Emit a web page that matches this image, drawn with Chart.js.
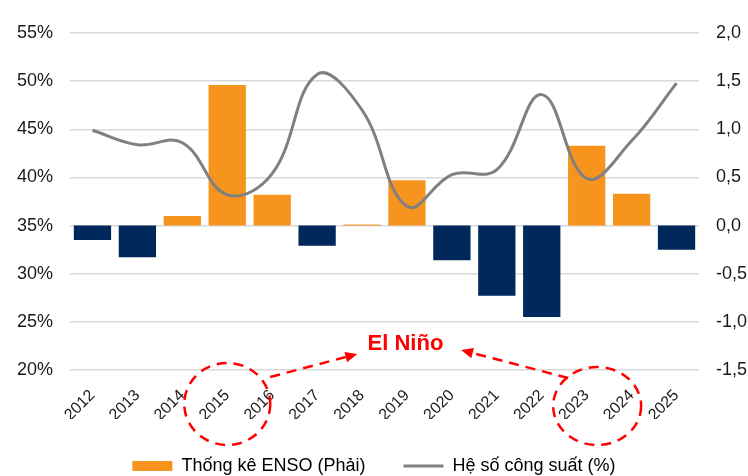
<!DOCTYPE html>
<html>
<head>
<meta charset="utf-8">
<script src="https://cdn.jsdelivr.net/npm/chart.js@4.4.1/dist/chart.umd.min.js"></script>
<style>
  html, body { margin: 0; padding: 0; background: #fff; }
  #wrap { width: 748px; height: 476px; }
</style>
</head>
<body>
<div id="wrap"><canvas id="chart" width="748" height="476"></canvas></div>
<script>
// Years on the x axis
const years = ['2012', '2013', '2014', '2015', '2016', '2017', '2018', '2019',
               '2020', '2021', '2022', '2023', '2024', '2025'];

// ENSO index (right axis)
const enso = [-0.15, -0.33, 0.10, 1.46, 0.32, -0.21, 0.01, 0.47,
              -0.36, -0.73, -0.95, 0.83, 0.33, -0.25];

// Capacity factor in % (left axis)
const capacity = [44.9, 43.4, 43.6, 38.2, 40.4, 50.7, 47.0, 37.0,
                  40.3, 40.8, 48.6, 39.9, 43.8, 49.8];

// Tick ranges
const leftTicks = { min: 20, max: 55, step: 5 };
const rightTicks = { min: -1.5, max: 2.0, step: 0.5 };

const ORANGE = '#F7941D';
const NAVY = '#00285A';
const GREY = '#808080';
const RED = '#FF0000';
const FONT = "'Liberation Sans', Arial, sans-serif";

// Draws the El Niño circles, arrows and label
const elNinoPlugin = {
    id: 'elNino',
    afterDraw(chart) {
        const ctx = chart.ctx;
        const x = chart.scales.x;
        const area = chart.chartArea;
        const base = area.bottom;

        function ellipse(cx, cy, rx, ry) {
            ctx.beginPath();
            ctx.ellipse(cx, cy, rx, ry, 0, 0, Math.PI * 2);
            ctx.stroke();
        }
        function arrow(x1, y1, x2, y2) {
            const ang = Math.atan2(y2 - y1, x2 - x1);
            const head = 13;
            ctx.beginPath();
            ctx.moveTo(x1, y1);
            ctx.lineTo(x2 - Math.cos(ang) * head * 0.8, y2 - Math.sin(ang) * head * 0.8);
            ctx.stroke();
            ctx.save();
            ctx.setLineDash([]);
            ctx.beginPath();
            ctx.moveTo(x2, y2);
            ctx.lineTo(x2 - head * Math.cos(ang - 0.42), y2 - head * Math.sin(ang - 0.42));
            ctx.lineTo(x2 - head * Math.cos(ang + 0.42), y2 - head * Math.sin(ang + 0.42));
            ctx.closePath();
            ctx.fill();
            ctx.restore();
        }

        ctx.save();
        ctx.strokeStyle = RED;
        ctx.fillStyle = RED;
        ctx.lineWidth = 2.5;
        ctx.setLineDash([10, 7]);

        const c1 = x.getPixelForValue(3);
        const c2 = (x.getPixelForValue(11) + x.getPixelForValue(12)) / 2;
        ellipse(c1, base + 34, 43, 41);
        ellipse(c2 - 12, base + 36, 44, 39);

        arrow(c1 + 43, base + 7, c1 + 130, base - 16);
        arrow(c2 - 41, base + 8, c2 - 148, base - 20);

        ctx.font = 'bold 22px ' + FONT;
        ctx.textAlign = 'center';
        ctx.textBaseline = 'middle';
        ctx.fillText('El Niño', (x.getPixelForValue(7) + x.getPixelForValue(8)) / 2 - 24, base - 26);
        ctx.restore();
    }
};

const ctx = document.getElementById('chart').getContext('2d');
const chart = new Chart(ctx, {
    data: {
        labels: years,
        datasets: [
            {
                type: 'line',
                label: 'Hệ số công suất (%)',
                data: capacity,
                yAxisID: 'y',
                borderColor: GREY,
                backgroundColor: GREY,
                borderWidth: 3,
                pointRadius: 0,
                tension: 0.4,
                order: 0
            },
            {
                type: 'bar',
                label: 'Thống kê ENSO (Phải)',
                data: enso,
                yAxisID: 'y1',
                backgroundColor: enso.map(v => v >= 0 ? ORANGE : NAVY),
                categoryPercentage: 1,
                barPercentage: 0.83,
                order: 1
            }
        ]
    },
    options: {
        responsive: false,
        animation: false,
        layout: { padding: { top: 33, left: 0, right: 0, bottom: -9 } },
        plugins: {
            tooltip: { enabled: false },
            legend: {
                position: 'bottom',
                labels: {
                    usePointStyle: true,
                    pointStyleWidth: 40,
                    boxWidth: 40,
                    boxHeight: 10,
                    padding: 38,
                    color: '#1a1a1a',
                    font: { family: FONT, size: 18 },
                    generateLabels() {
                        return [
                            { text: 'Thống kê ENSO (Phải)', fillStyle: ORANGE, strokeStyle: ORANGE,
                              lineWidth: 0, pointStyle: 'rect', datasetIndex: 1, hidden: false },
                            { text: 'Hệ số công suất (%)', fillStyle: GREY, strokeStyle: GREY,
                              lineWidth: 3, pointStyle: 'line', datasetIndex: 0, hidden: false }
                        ];
                    }
                }
            }
        },
        scales: {
            x: {
                grid: { display: false, drawTicks: false },
                border: { display: false },
                ticks: {
                    minRotation: 45,
                    maxRotation: 45,
                    padding: 16,
                    color: '#1a1a1a',
                    font: { family: FONT, size: 16 }
                },
                afterFit(scale) { scale.height = 49; }
            },
            y: {
                position: 'left',
                min: leftTicks.min,
                max: leftTicks.max,
                grid: { color: '#d9d9d9', lineWidth: 1.5, drawTicks: false },
                border: { display: false },
                ticks: {
                    stepSize: leftTicks.step,
                    padding: 17,
                    color: '#1a1a1a',
                    font: { family: FONT, size: 18 },
                    callback: v => v + '%'
                },
                afterFit(scale) { scale.width = 70; }
            },
            y1: {
                position: 'right',
                min: rightTicks.min,
                max: rightTicks.max,
                grid: { display: false, drawTicks: false },
                border: { display: false },
                ticks: {
                    stepSize: rightTicks.step,
                    padding: 17,
                    color: '#1a1a1a',
                    font: { family: FONT, size: 18 },
                    callback: v => v.toFixed(1).replace('.', ',')
                },
                afterFit(scale) { scale.width = 49; }
            }
        }
    },
    plugins: [elNinoPlugin]
});
</script>
</body>
</html>
